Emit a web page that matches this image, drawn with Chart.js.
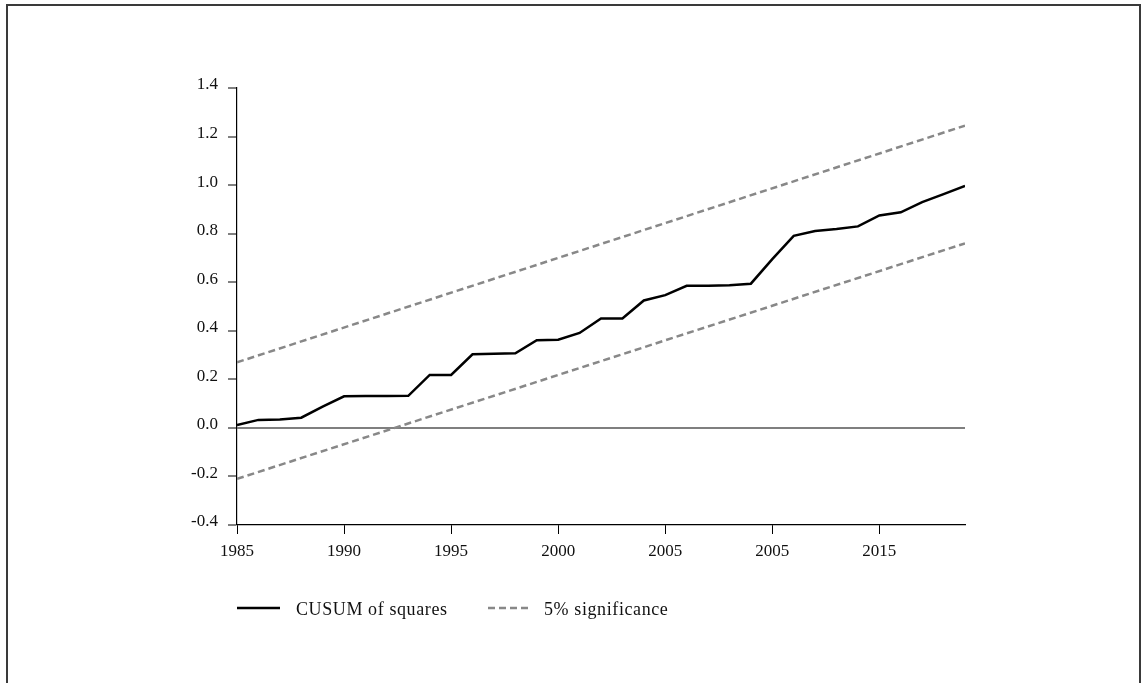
<!DOCTYPE html>
<html>
<head>
<meta charset="utf-8">
<script src="https://cdn.jsdelivr.net/npm/chart.js@4.4.0/dist/chart.umd.min.js"></script>
<style>
  html, body { margin: 0; padding: 0; background: #fff; }
  #wrap { position: relative; width: 1142px; height: 683px; overflow: hidden; }
  #frame { position: absolute; left: 6px; top: 4px; width: 1135px; height: 720px;
           border: 2px solid #3a3a3a; border-bottom: none; box-sizing: border-box; }
  #c { position: absolute; left: 0; top: 0; }
  .leg { position: absolute; top: 597px; font-family: "Liberation Serif", serif; font-size: 18px;
         letter-spacing: 0.6px; color: #111; line-height: 24px; white-space: nowrap; }
  .leg svg { position: absolute; top: 0; }
</style>
</head>
<body>
<div id="wrap">
  <div id="frame"></div>
  <canvas id="c" width="1142" height="683"></canvas>
  <div class="leg" style="left:237px;">
    <svg width="44" height="24" style="left:0"><line x1="0" y1="11" x2="43" y2="11" stroke="#000" stroke-width="2.5"/></svg>
    <span style="position:absolute; left:59px;">CUSUM of squares</span>
  </div>
  <div class="leg" style="left:488px;">
    <svg width="44" height="24" style="left:0"><line x1="0" y1="11" x2="41" y2="11" stroke="#888" stroke-width="2.5" stroke-dasharray="7,4"/></svg>
    <span style="position:absolute; left:56px;">5% significance</span>
  </div>
</div>
<script>
// ---- data ----
const years = [1985,1986,1987,1988,1989,1990,1991,1992,1993,1994,1995,1996,1997,1998,1999,2000,2001,2002,2003,2004,2005,2006,2007,2008,2009,2010,2011,2012,2013,2014,2015,2016,2017,2018,2019];
const cusum = [0.012,0.033,0.035,0.042,0.088,0.130,0.131,0.131,0.132,0.218,0.218,0.303,0.305,0.307,0.361,0.363,0.391,0.451,0.451,0.525,0.547,0.585,0.585,0.588,0.594,0.695,0.791,0.811,0.819,0.830,0.875,0.888,0.930,0.963,0.997];
const boundYears = [1985, 2019];
const upperBound = [0.27, 1.245];
const lowerBound = [-0.21, 0.76];
const xTickValues = [1985,1990,1995,2000,2005,2010,2015];
const xTickLabels = ["1985","1990","1995","2000","2005","2005","2015"];
const yTicks = [-0.4,-0.2,0.0,0.2,0.4,0.6,0.8,1.0,1.2,1.4];

const pts = (xs, ys) => xs.map((x, i) => ({ x: x, y: ys[i] }));
const FONT = { family: "'Liberation Serif', serif", size: 17 };

new Chart(document.getElementById('c'), {
  type: 'line',
  data: {
    datasets: [
      { label: 'CUSUM of squares', data: pts(years, cusum), borderColor: '#000', borderWidth: 2.5,
        pointRadius: 0, tension: 0, fill: false, order: 0 },
      { label: '5% significance', data: pts(boundYears, upperBound), borderColor: '#888', borderWidth: 2.5,
        borderDash: [7, 4], pointRadius: 0, tension: 0, fill: false, order: 1 },
      { label: '5% significance (lower)', data: pts(boundYears, lowerBound), borderColor: '#888', borderWidth: 2.5,
        borderDash: [7, 4], pointRadius: 0, tension: 0, fill: false, order: 1 }
    ]
  },
  options: {
    responsive: false,
    animation: false,
    devicePixelRatio: 1,
    layout: { padding: { left: 0, top: 88, right: 177, bottom: 113 } },
    plugins: { legend: { display: false }, tooltip: { enabled: false } },
    scales: {
      x: {
        type: 'linear', min: 1985, max: 2019,
        afterFit: s => { s.height = 45; },
        afterBuildTicks: s => { s.ticks = xTickValues.map(v => ({ value: v })); },
        ticks: { color: '#111', font: FONT, padding: 7, maxRotation: 0, autoSkip: false,
                 callback: (v) => { const i = xTickValues.indexOf(v); return i >= 0 ? xTickLabels[i] : ''; } },
        grid: { drawOnChartArea: false, drawTicks: true, tickLength: 9, tickColor: '#000', tickWidth: 1 },
        border: { display: true, color: '#000', width: 1.2 }
      },
      y: {
        min: -0.4, max: 1.4,
        afterFit: s => { s.width = 237; },
        afterBuildTicks: s => { s.ticks = yTicks.map(v => ({ value: v })); },
        ticks: { color: '#111', font: FONT, padding: 10, labelOffset: -3, callback: v => Number(v).toFixed(1) },
        grid: {
          drawOnChartArea: true, drawTicks: true, tickLength: 9, tickColor: '#000', tickWidth: 1,
          color: c => (c.tick && Math.abs(c.tick.value) < 1e-9) ? '#7f7f7f' : 'rgba(0,0,0,0)',
          lineWidth: c => (c.tick && Math.abs(c.tick.value) < 1e-9) ? 2 : 0
        },
        border: { display: true, color: '#000', width: 1.2 }
      }
    }
  }
});
</script>
</body>
</html>
